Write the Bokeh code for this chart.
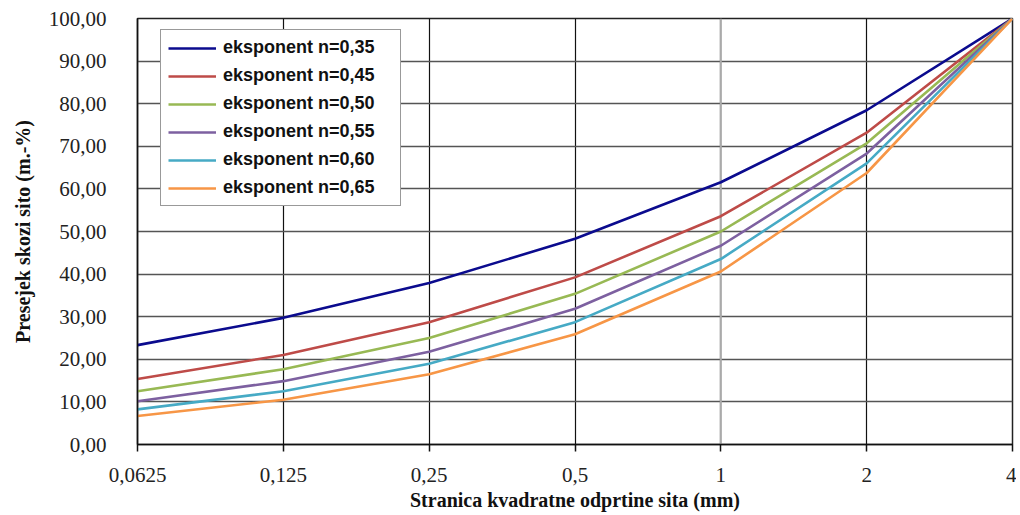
from bokeh.plotting import figure
from bokeh.models import Range1d, FixedTicker, Legend, LegendItem, Span
from bokeh.embed import file_html
from bokeh.resources import INLINE

x_labels = ["0,0625", "0,125", "0,25", "0,5", "1", "2", "4"]
series_names = ["eksponent n=0,35", "eksponent n=0,45", "eksponent n=0,50",
                "eksponent n=0,55", "eksponent n=0,60", "eksponent n=0,65"]
n035 = [23.33, 29.73, 37.89, 48.30, 61.56, 78.46, 100.0]
n045 = [15.39, 21.02, 28.72, 39.23, 53.59, 73.20, 100.0]
n050 = [12.50, 17.68, 25.00, 35.36, 50.00, 70.71, 100.0]
n055 = [10.15, 14.87, 21.76, 31.86, 46.65, 68.30, 100.0]
n060 = [8.25, 12.50, 18.95, 28.72, 43.53, 65.98, 100.0]
n065 = [6.70, 10.51, 16.49, 25.88, 40.61, 63.73, 100.0]
series_values = [n035, n045, n050, n055, n060, n065]
colors = ["#0B0B8E", "#BE4B48", "#98B954", "#7D60A0", "#46AAC5", "#F79646"]
y_ticks = [0, 10, 20, 30, 40, 50, 60, 70, 80, 90, 100]
y_tick_labels = ["0,00", "10,00", "20,00", "30,00", "40,00", "50,00",
                 "60,00", "70,00", "80,00", "90,00", "100,00"]

xs = list(range(len(x_labels)))

p = figure(width=1016, height=513, output_backend="svg", toolbar_location=None,
           x_range=Range1d(0, len(x_labels) - 1), y_range=Range1d(0, 100),
           min_border_left=137, min_border_top=18, min_border_right=4,
           min_border_bottom=67)
p.background_fill_color = "white"
p.border_fill_color = "white"
p.outline_line_color = "#222222"
p.outline_line_width = 1.5

# axes
p.xaxis.ticker = FixedTicker(ticks=xs)
p.xaxis.major_label_overrides = {i: lab for i, lab in enumerate(x_labels)}
p.yaxis.ticker = FixedTicker(ticks=y_ticks)
p.yaxis.major_label_overrides = {t: lab for t, lab in zip(y_ticks, y_tick_labels)}

for ax in (p.xaxis, p.yaxis):
    ax.major_label_text_font = "Liberation Serif"
    ax.major_label_text_font_size = "21px"
    ax.major_label_text_color = "#222222"
    ax.axis_line_color = "#111111"
    ax.axis_line_width = 1.5
    ax.minor_tick_line_color = None
    ax.axis_label_text_font = "Liberation Serif"
    ax.axis_label_text_font_size = "20px"
    ax.axis_label_text_font_style = "bold"
    ax.axis_label_text_color = "#111111"

p.xaxis.major_tick_out = 7
p.xaxis.major_tick_in = 0
p.xaxis.major_tick_line_color = "#111111"
p.xaxis.major_tick_line_width = 1.5
p.xaxis.major_label_standoff = 16
p.xaxis.axis_label = "Stranica kvadratne odprtine sita (mm)"
p.xaxis.axis_label_standoff = 4

p.yaxis.major_tick_line_color = None
p.yaxis.major_label_standoff = 25
p.yaxis.axis_label = "Presejek skozi sito (m.-%)"
p.yaxis.axis_label_standoff = 12

# grid
p.xgrid.grid_line_color = "#111111"
p.xgrid.grid_line_width = 1.2
p.ygrid.grid_line_color = "#555555"
p.ygrid.grid_line_width = 1.5
p.add_layout(Span(location=xs[x_labels.index("1")], dimension="height",
                  line_color="#AAAAAA", line_width=2, level="underlay"))

items = []
for name, vals, col in zip(series_names, series_values, colors):
    r = p.line(xs, vals, line_color=col, line_width=2.6)
    items.append(LegendItem(label=name, renderers=[r]))

legend = Legend(items=items, location=(23, 238))
legend.label_text_font = "Liberation Sans"
legend.label_text_font_style = "bold"
legend.label_text_font_size = "18px"
legend.label_text_color = "#111111"
legend.glyph_width = 48
legend.glyph_height = 20
legend.label_height = 20
legend.label_width = 170
legend.label_standoff = 7
legend.spacing = 7
legend.padding = 7
legend.margin = 0
legend.border_line_color = "#333333"
legend.border_line_width = 1.2
legend.background_fill_alpha = 1
p.add_layout(legend, "center")

open("out.html", "w").write(file_html(p, INLINE))
